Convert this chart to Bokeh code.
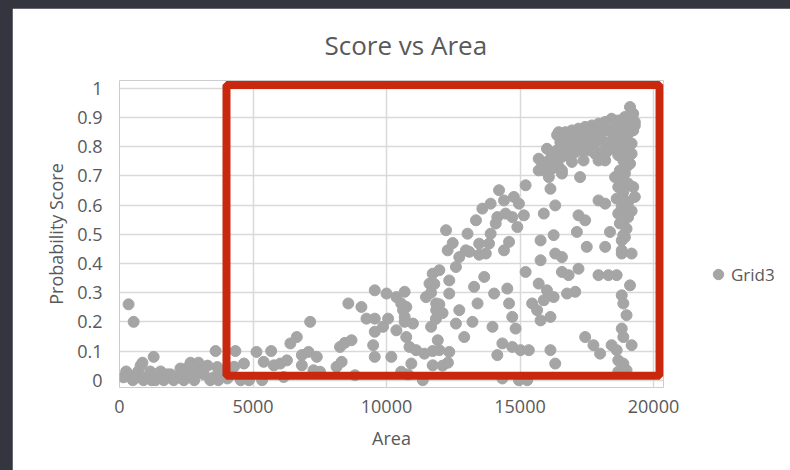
from bokeh.plotting import figure
from bokeh.models import (Range1d, FixedTicker, Legend, LegendItem, BoxAnnotation,
                          GlobalInlineStyleSheet)
from bokeh.embed import file_html
from bokeh.resources import INLINE

# ---------------- data ----------------
area = [
    340, 530, 1280, 3600, 150, 250, 340, 500, 600, 700, 790, 860, 900, 1040, 1150, 1200,
    1350, 1350, 1500, 1540, 1660, 1800, 1910, 2030, 2200, 2280, 2410, 2410, 2500, 2600,
    2660, 2800, 2900, 2960, 3030, 3160, 3300, 3400, 3530, 3660, 3700, 3850,
    4340, 5130, 5680, 5400, 4660, 4290, 3980, 4040, 4540, 4850, 5340, 6150, 6640, 6400,
    7140, 7390, 7080, 6830, 6270, 6020, 5780, 6830, 7265, 7510, 8130, 8320, 8260, 8440,
    8690, 8820, 8570, 9060, 9250, 9560, 9560, 10000, 10370, 10680, 10550, 10740, 10060,
    9870, 9560, 9500, 9560, 10180, 10370, 10680, 10740, 10990, 10860, 11110, 11420, 10930,
    10550, 11360, 11730, 11920, 11980, 12350, 11670, 11860, 11860, 11480, 11610, 11730,
    11980, 12350, 12350, 12290, 12230, 12600, 12725, 12970, 13035, 13350, 13470, 13720,
    13840, 13900, 14090, 14150, 13590, 13900, 14215, 14400, 14460, 14710, 14900, 14590,
    14400, 14770, 14960, 15210, 15145, 12725, 12910, 12600, 13220, 13410, 13280, 13660,
    13970, 14030, 14340, 14150, 14525, 14590, 14710, 14835, 14710, 15020, 15330, 14340,
    14960, 15270, 15210, 15455, 15640, 15770, 15890, 16140, 15700, 16010, 16260, 16760,
    17070, 15770, 15770, 16260, 16320, 16570, 16570, 16820, 17190, 17130, 17190, 17440,
    17500, 18190, 18370, 17940, 18190, 17940, 18310, 18620, 18810, 19180, 19120, 18810,
    18870, 18990, 18810, 18870, 19180, 18430, 18620, 18680, 18870, 18990, 18680, 18000,
    17750, 17440, 16140, 16320, 15890, 16320, 16140, 16080, 16570, 17250, 16450, 16200,
    15700, 16010, 16450,
    10620, 10680, 11980, 12100, 11850, 11730, 10800, 13100, 13470, 12480, 11790, 11670,
    12100, 12300,
    19120, 19240, 19300, 18930, 18680, 18430, 18190, 17940, 17690, 17440, 17190, 16945,
    16700, 16510, 16820, 17070, 17320, 17565, 17810, 18060, 18310, 18560, 18810, 19050,
    19240, 18990, 18680, 18430, 18190, 17940, 17690, 17440, 17190, 16945, 16700, 16390,
    16200, 16080, 16320, 16570, 16820, 17070, 17320, 17565, 17810, 18060, 18310, 18620,
    18870, 19180, 18930, 18680, 17940, 17380, 16945, 16570, 15830, 15700, 15890, 18740,
    18930, 18560, 18810, 19050, 19240, 18680, 18870, 19300, 18620, 18930, 18810, 18990,
    18680, 19050, 18870, 18990, 18870, 18810, 18190,
    19050, 19180, 19300, 18810, 18500, 17750, 17500, 19180, 19120, 18990, 18870, 18190,
    17130, 16700, 16260, 16510, 16390, 19050, 19180, 18740, 18930, 18810,
]
score = [
    0.26, 0.20, 0.08, 0.10, 0.01, 0.03, 0.02, 0.0, 0.01, 0.03, 0.05, 0.06, 0.0, 0.01, 0.03, 0.0,
    0.02, 0.0, 0.01, 0.03, 0.0, 0.02, 0.02, 0.0, 0.01, 0.04, 0.03, 0.0, 0.04, 0.02,
    0.06, 0.0, 0.03, 0.06, 0.03, 0.02, 0.05, 0.0, 0.01, 0.045, 0.0, 0.02,
    0.10, 0.097, 0.10, 0.063, 0.057, 0.046, 0.029, 0.006, 0.0, 0.0, 0.0, 0.011, 0.148, 0.126,
    0.20, 0.08, 0.097, 0.086, 0.068, 0.057, 0.051, 0.051, 0.034, 0.029, 0.046, 0.063, 0.114, 0.128,
    0.137, 0.017, 0.263, 0.251, 0.211, 0.211, 0.308, 0.297, 0.285, 0.303, 0.263, 0.251, 0.211,
    0.183, 0.166, 0.12, 0.08, 0.08, 0.171, 0.217, 0.148, 0.194, 0.114, 0.103, 0.091, 0.057,
    0.029, 0.0, 0.051, 0.137, 0.103, 0.097, 0.183, 0.24, 0.263, 0.285, 0.331, 0.365,
    0.377, 0.342, 0.297, 0.445, 0.514, 0.388, 0.422, 0.445, 0.502, 0.548, 0.468, 0.434,
    0.468, 0.502, 0.537, 0.559, 0.588, 0.605, 0.651, 0.616, 0.571, 0.559, 0.525, 0.474,
    0.445, 0.628, 0.605, 0.668, 0.565, 0.24, 0.148, 0.194, 0.20, 0.263, 0.32, 0.354,
    0.183, 0.297, 0.126, 0.086, 0.314, 0.263, 0.217, 0.177, 0.114, 0.103, 0.103, 0.006,
    0.0, 0.0, 0.371, 0.263, 0.24, 0.205, 0.274, 0.217, 0.331, 0.308, 0.285, 0.297,
    0.303, 0.411, 0.479, 0.497, 0.434, 0.422, 0.371, 0.36, 0.382, 0.508, 0.565, 0.548,
    0.457, 0.457, 0.508, 0.616, 0.605, 0.36, 0.36, 0.36, 0.434, 0.434, 0.325, 0.291,
    0.263, 0.223, 0.177, 0.148, 0.12, 0.12, 0.103, 0.068, 0.057, 0.034, 0.029, 0.091,
    0.12, 0.148, 0.103, 0.057, 0.571, 0.599, 0.656, 0.696, 0.708, 0.696, 0.731, 0.725,
    0.759, 0.793, 0.85,
    0.24, 0.20, 0.26, 0.23, 0.21, 0.10, 0.02, 0.44, 0.43, 0.47, 0.33, 0.30,
    0.05, 0.06,
    0.936, 0.913, 0.885, 0.902, 0.89, 0.896, 0.885, 0.879, 0.873, 0.868, 0.862, 0.856,
    0.85, 0.833, 0.833, 0.839, 0.845, 0.85, 0.856, 0.85, 0.856, 0.862, 0.868, 0.873,
    0.856, 0.833, 0.822, 0.811, 0.816, 0.822, 0.828, 0.822, 0.811, 0.805, 0.799, 0.788,
    0.776, 0.753, 0.759, 0.765, 0.771, 0.782, 0.788, 0.788, 0.776, 0.782, 0.788, 0.793,
    0.799, 0.811, 0.765, 0.771, 0.753, 0.753, 0.748, 0.719, 0.742, 0.719, 0.719, 0.719,
    0.708, 0.696, 0.685, 0.674, 0.662, 0.662, 0.645, 0.628, 0.622, 0.616, 0.594, 0.582,
    0.571, 0.559, 0.537, 0.519, 0.497, 0.479, 0.753,
    0.845, 0.89, 0.873, 0.845, 0.84, 0.805, 0.80, 0.776, 0.742, 0.731, 0.753, 0.776,
    0.822, 0.828, 0.765, 0.816, 0.84, 0.61, 0.58, 0.537, 0.49, 0.445,
]
series_name = "Grid3"
x_ticks = [0, 5000, 10000, 15000, 20000]
x_tick_labels = ["0", "5000", "10000", "15000", "20000"]
y_ticks = [0, 0.1, 0.2, 0.3, 0.4, 0.5, 0.6, 0.7, 0.8, 0.9, 1]
y_tick_labels = ["0", "0.1", "0.2", "0.3", "0.4", "0.5", "0.6", "0.7", "0.8", "0.9", "1"]
# highlight box (left, right, bottom, top) in data units
highlight = [4007, 20225, 0.0154, 1.012]

TXT = "#595959"
FONT = "Open Sans"

p = figure(
    frame_width=544, frame_height=307,
    min_border_left=107, min_border_right=127, min_border_top=72, min_border_bottom=83,
    x_range=Range1d(0, 20374), y_range=Range1d(-0.025, 1.027),
    output_backend="svg", toolbar_location=None,
    title="Score vs Area",
)
p.stylesheets = [GlobalInlineStyleSheet(css="body { background-color: #35353f; margin: 8px 0 0 12px; }")]
p.background_fill_color = "white"
p.border_fill_color = "white"
p.outline_line_color = None

p.title.text_font = FONT
p.title.text_font_size = "26px"
p.title.text_font_style = "normal"
p.title.text_color = TXT
p.title.align = "left"
p.title.vertical_align = "middle"
p.title.offset = 205
p.title.standoff = 34

p.xaxis.ticker = FixedTicker(ticks=x_ticks)
p.yaxis.ticker = FixedTicker(ticks=y_ticks)
p.xaxis.major_label_overrides = dict(zip(x_ticks, x_tick_labels))
p.yaxis.major_label_overrides = dict(zip(y_ticks, y_tick_labels))
for ax in (p.xaxis, p.yaxis):
    ax.axis_line_color = None
    ax.major_tick_line_color = None
    ax.minor_tick_line_color = None
    ax.major_tick_out = 0
    ax.minor_tick_out = 0
    ax.major_label_text_font = FONT
    ax.major_label_text_font_size = "18px"
    ax.major_label_text_color = TXT
    ax.axis_label_text_font = FONT
    ax.axis_label_text_font_size = "18px"
    ax.axis_label_text_font_style = "normal"
    ax.axis_label_text_color = TXT
p.xaxis.axis_label = "Area"
p.yaxis.axis_label = "Probability Score"
p.xaxis.major_label_standoff = 12
p.xaxis.axis_label_standoff = 10
p.yaxis.major_label_standoff = 17
p.yaxis.axis_label_standoff = 6

p.grid.grid_line_color = "#d9d9d9"
p.grid.grid_line_width = 1.5

r = p.scatter(area, score, size=11, fill_color="#a5a5a5", line_color="#a5a5a5")

box = BoxAnnotation(left=highlight[0], right=highlight[1], bottom=highlight[2], top=highlight[3],
                    fill_color=None, fill_alpha=0, line_color="#c9270e", line_alpha=1.0,
                    line_width=8)
p.add_layout(box)

legend = Legend(items=[LegendItem(label=series_name, renderers=[r])],
                location=(42, 98), glyph_width=26, glyph_height=30, label_standoff=0,
                padding=2, margin=0, border_line_color=None, background_fill_alpha=0,
                label_text_font=FONT, label_text_font_size="17px", label_text_color=TXT)
p.add_layout(legend, "right")

open("out.html", "w").write(file_html(p, INLINE))
